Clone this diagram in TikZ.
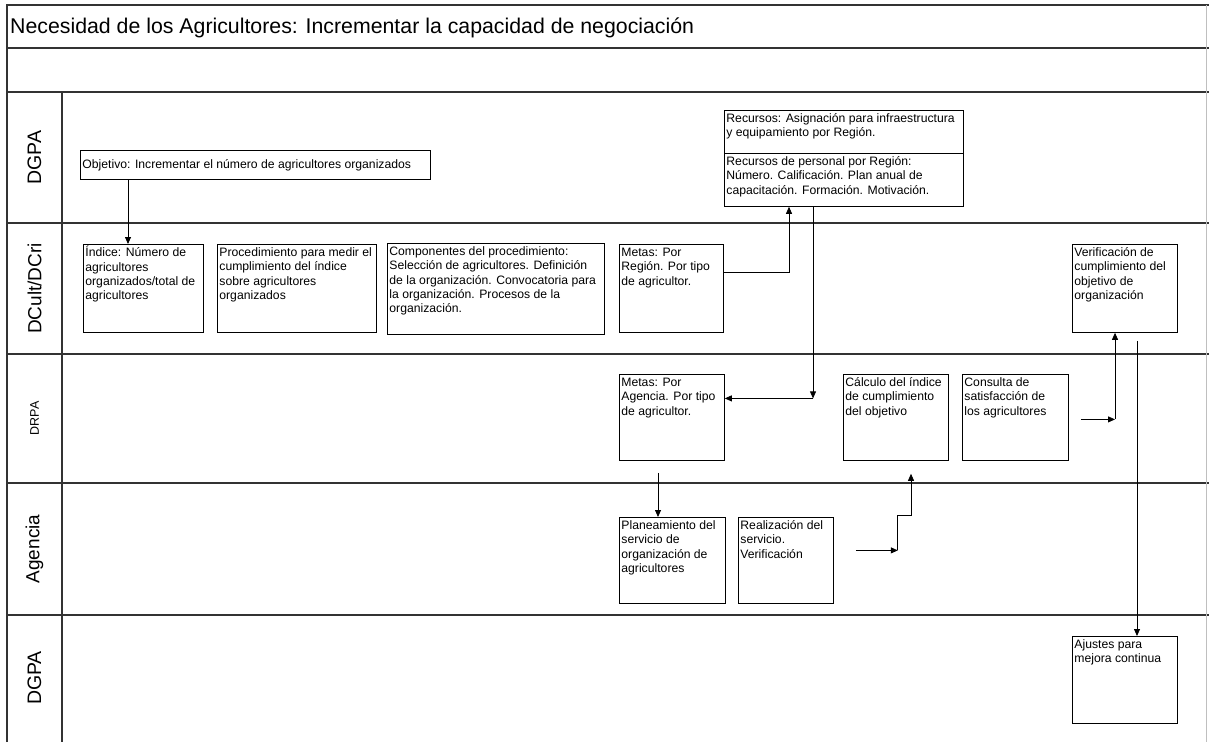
\documentclass[tikz,border=0pt]{standalone}
\usepackage{fontspec}
\setmainfont{Liberation Sans}
\usetikzlibrary{arrows.meta,calc}

\tikzset{
  frameline/.style={line width=1.1pt, draw=black!80},
  flowbox/.style={draw, line width=0.8pt, inner sep=2pt, anchor=north west,
    font=\fontsize{12.2}{14.3}\selectfont},
  lanelabel/.style={rotate=90, inner sep=0pt, font=\fontsize{19.5}{22}\selectfont},
  arr/.style={-{Triangle[length=7pt,width=6pt]}, line width=0.8pt}
}

\newcommand\flowbx[6]{%
  \node[flowbox] (#1) at (#2,#3) {\parbox[t][\dimexpr #5pt-4pt\relax][t]{\dimexpr #4pt-4pt\relax}{\begin{tabular}[t]{@{}l@{}}#6\end{tabular}}};}

\begin{document}
\begin{tikzpicture}[x=1pt,y=-1pt]
\useasboundingbox (0,0) rectangle (1209,742);

% frame and lanes
\draw[frameline] (7,742) -- (7,5) -- (1209,5);
\draw[frameline] (7,48) -- (1209,48);
\draw[frameline] (7,92) -- (1209,92);
\draw[frameline] (7,223) -- (1209,223);
\draw[frameline] (7,354) -- (1209,354);
\draw[frameline] (7,483) -- (1209,483);
\draw[frameline] (7,615) -- (1209,615);
\draw[frameline] (62,92) -- (62,742);
\draw[black!25, line width=0.6pt] (1206,5) -- (1206,742);

% title
\node[anchor=base west, inner sep=0pt, font=\fontsize{21.3}{25}\selectfont] (title) at (10,33)
  {Necesidad de los Agricultores: Incrementar la capacidad de negociación};

% lane labels
\node[lanelabel] (l1) at (34.5,157.5) {DGPA};
\node[lanelabel, font=\fontsize{19}{22}\selectfont] (l2) at (34.5,288.5) {DCult/DCri};
\node[lanelabel, font=\fontsize{12.5}{15}\selectfont] (l3) at (34.5,418.5) {DRPA};
\node[lanelabel, font=\fontsize{19}{22}\selectfont] (l4) at (34.5,549) {Agencia};
\node[lanelabel] (l5) at (34.5,678) {DGPA};

% boxes
\node[flowbox] (obj) at (80,150) {\parbox[t][25pt][c]{346pt}{Objetivo: Incrementar el número de agricultores organizados}};
\flowbx{ind}{83}{244}{120}{88}{Índice: Número de\\agricultores\\organizados/total de\\agricultores}
\flowbx{pro}{217}{244}{159}{88}{Procedimiento para medir el\\cumplimiento del índice\\sobre agricultores\\organizados}
\flowbx{com}{387}{243}{217}{91}{Componentes del procedimiento:\\Selección de agricultores. Definición\\de la organización. Convocatoria para\\la organización. Procesos de la\\organización.}
\flowbx{mr}{619}{244}{104}{88}{Metas: Por\\Región. Por tipo\\de agricultor.}
\flowbx{rec1}{724}{110}{239}{43}{Recursos: Asignación para infraestructura\\y equipamiento por Región.}
\flowbx{rec2}{724}{153}{239}{53}{Recursos de personal por Región:\\Número. Calificación. Plan anual de\\capacitación. Formación. Motivación.}
\flowbx{ve}{1072}{244}{105}{88}{Verificación de\\cumplimiento del\\objetivo de\\organización}
\flowbx{ma}{619}{374}{105}{86}{Metas: Por\\Agencia. Por tipo\\de agricultor.}
\flowbx{ca}{843}{374}{105}{86}{Cálculo del índice\\de cumplimiento\\del objetivo}
\flowbx{co}{962}{374}{106}{86}{Consulta de\\satisfacción de\\los agricultores}
\flowbx{pl}{619}{517}{106}{86}{Planeamiento del\\servicio de\\organización de\\agricultores}
\flowbx{re}{738}{517}{95}{86}{Realización del\\servicio.\\Verificación}
\flowbx{aj}{1072}{636}{105}{87}{Ajustes para\\mejora continua}

% connectors
\draw[arr] ($(obj.south west)+(48,0)$) -- ($(ind.north west)+(45,0)$);
\draw[arr] ([yshift=16pt]mr.east) -| ($(rec2.south west)+(65,0)$);

\coordinate (r1) at ($(rec2.south west)+(89,0)$);
\coordinate (m1) at ([yshift=19pt]ma.east);
\coordinate (c1) at (r1 |- m1);
\draw[arr] (r1) -- (c1);
\draw[arr] (c1) -- (m1);

\coordinate (m2) at ($(ma.south west)+(39,12)$);
\draw[arr] (m2) -- (m2 |- pl.north);

\coordinate (r2) at ($(re.east)+(22,-10)$);
\coordinate (r3) at ($(r2)+(42,0)$);
\coordinate (c2) at ($(ca.south west)+(68,13)$);
\draw[arr] (r2) -- (r3);
\draw[arr] (r3) -- ++(0,-35) -| (c2);

\coordinate (k1) at ($(co.east)+(12,2)$);
\coordinate (k2) at ($(ve.south west)+(43,0)$);
\coordinate (k3) at (k2 |- k1);
\draw[arr] (k1) -- (k3);
\draw[arr] (k3) -- (k2);

\coordinate (v1) at ($(ve.south west)+(65,8)$);
\draw[arr] (v1) -- (v1 |- aj.north);
\end{tikzpicture}
\end{document}
